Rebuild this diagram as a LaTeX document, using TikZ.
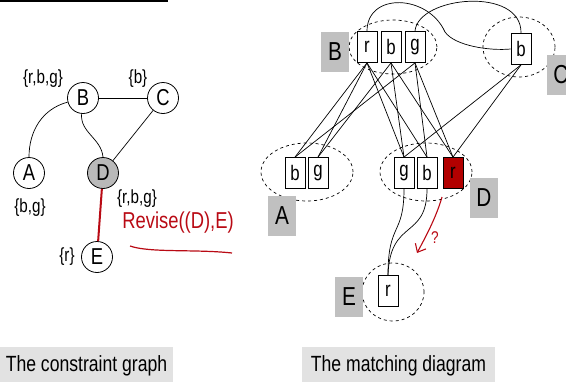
\documentclass[tikz,border=0pt]{standalone}
\usepackage{fontspec}
\setmainfont[FakeStretch=0.8]{Liberation Sans}
\usetikzlibrary{shapes.geometric, arrows.meta}

\definecolor{markred}{RGB}{185,10,20}
\definecolor{valred}{RGB}{178,0,0}
\definecolor{tagGray}{RGB}{192,192,192}
\definecolor{capGray}{RGB}{226,226,226}
\definecolor{varGray}{RGB}{185,185,185}

\begin{document}
\begin{tikzpicture}[
    x=1pt, y=-1pt,
    var/.style={circle, draw, line width=0.8pt, fill=white, minimum size=31pt, inner sep=0pt, font=\fontsize{23}{26}\selectfont},
    dom/.style={font=\fontsize{19}{22}\selectfont},
    val/.style={rectangle, draw, line width=0.8pt, fill=white, minimum width=20pt, minimum height=31pt, inner sep=0pt, font=\fontsize{21}{24}\selectfont},
    area/.style={ellipse, draw, dashed, line width=0.7pt, inner sep=0pt},
    tag/.style={fill=tagGray, minimum width=28pt, minimum height=40pt, inner sep=0pt, font=\fontsize{26}{30}\selectfont},
    caption/.style={fill=capGray, minimum height=38pt, inner sep=0pt, font=\fontsize{22}{26}\selectfont},
    link/.style={line width=0.7pt}
]
    \useasboundingbox (0,0) rectangle (566,381);
    \clip (0,0) rectangle (566,381);
    \draw[line width=1.5pt] (0,1) -- (168,1);

    % constraint graph
    \node[var] (B) at (83,98) {B};
    \node[var] (C) at (163,98) {C};
    \node[var] (A) at (29,173) {A};
    \node[var, fill=varGray] (D) at (103,173) {D};
    \node[var] (E) at (97,257) {E};
    \node[dom] (domB) at (43,79) {\{r,b,g\}};
    \node[dom] (domC) at (138,79) {\{b\}};
    \node[dom] (domA) at (30,208) {\{b,g\}};
    \node[dom] (domD) at (137,199) {\{r,b,g\}};
    \node[dom] (domE) at (67,257) {\{r\}};
    \draw[link] (B) -- (C);
    \draw[link] (B.195) to[out=195, in=90] (A.north);
    \draw[link] (B.-95) to[out=-95, in=95] (D.north);
    \draw[link] (C) -- (D);
    \draw[line width=2pt, markred] (D) -- (E);
    \node[markred, font=\fontsize{23}{26}\selectfont] (rev) at (178,223) {Revise((D),E)};
    \draw[markred, line width=1.2pt] (130,246) .. controls (150,253) and (195,249) .. (232,253);

    % matching diagram
    \node[area, minimum width=88pt, minimum height=54pt] (Bdom) at (393,47) {};
    \node[area, minimum width=72pt, minimum height=60pt] (Cdom) at (519,47) {};
    \node[area, minimum width=92pt, minimum height=58pt] (Adom) at (307,172) {};
    \node[area, minimum width=92pt, minimum height=58pt] (Ddom) at (426,172) {};
    \node[area, minimum width=62pt, minimum height=58pt] (Edom) at (393,292) {};

    \node[val] (Br) at (367,47) {r};
    \node[val] (Bb) at (391,47) {b};
    \node[val] (Bg) at (415,47) {g};
    \node[val] (Cb) at (521,49) {b};
    \node[val] (Ab) at (295,173) {b};
    \node[val] (Ag) at (318,173) {g};
    \node[val] (Dg) at (404,173) {g};
    \node[val] (Db) at (427,173) {b};
    \node[val, fill=valred] (Dr) at (453,173) {r};
    \node[val] (Er) at (388,291) {r};

    \node[tag] (tagB) at (335,52) {B};
    \node[tag] (tagC) at (561,75) {C};
    \node[tag] (tagA) at (282,216) {A};
    \node[tag] (tagD) at (484,198) {D};
    \node[tag] (tagE) at (349,297) {E};

    \draw[link] (Br.south) -- (Ab.north);
    \draw[link] (Br.south) -- (Ag.north);
    \draw[link] (Bb.south) -- (Ag.north);
    \draw[link] (Bg.south) -- (Ab.north);
    \draw[link] (Br.south) -- (Dg.north);
    \draw[link] (Br.south) -- (Db.north);
    \draw[link] (Bb.south) -- (Dg.north);
    \draw[link] (Bb.south) -- (Dr.north);
    \draw[link] (Bg.south) -- (Db.north);
    \draw[link] (Bg.south) -- (Dr.north);
    \draw[link] (Cb.south) -- (Dg.north);
    \draw[link] (Cb.south) -- (Dr.north);
    \draw[link] (Br.north) .. controls (367,-8) and (428,-6) .. (445,32)
        .. controls (455,46) and (490,51) .. (Cb.west);
    \draw[link] (Bg.north) .. controls (418,-4) and (522,-14) .. (Cb.north);
    \draw[link] (Dg.south) .. controls (404,236) and (388,222) .. (Er.north);
    \draw[link] (Db.south) .. controls (427,240) and (390,218) .. (Er.north);

    \coordinate (qFrom) at (442,197);
    \coordinate (qTo) at (417,253);
    \draw[markred, line width=1.1pt, -{Straight Barb[length=7pt, width=12pt]}] (qFrom) .. controls (436,218) and (425,238) .. (qTo);
    \node[markred, font=\fontsize{17}{20}\selectfont] (ask) at (435,238) {?};

    \node[caption, minimum width=173pt] (capL) at (86.5,366) {The constraint graph};
    \node[caption, minimum width=193pt] (capR) at (398.5,366) {The matching diagram};
\end{tikzpicture}
\end{document}
